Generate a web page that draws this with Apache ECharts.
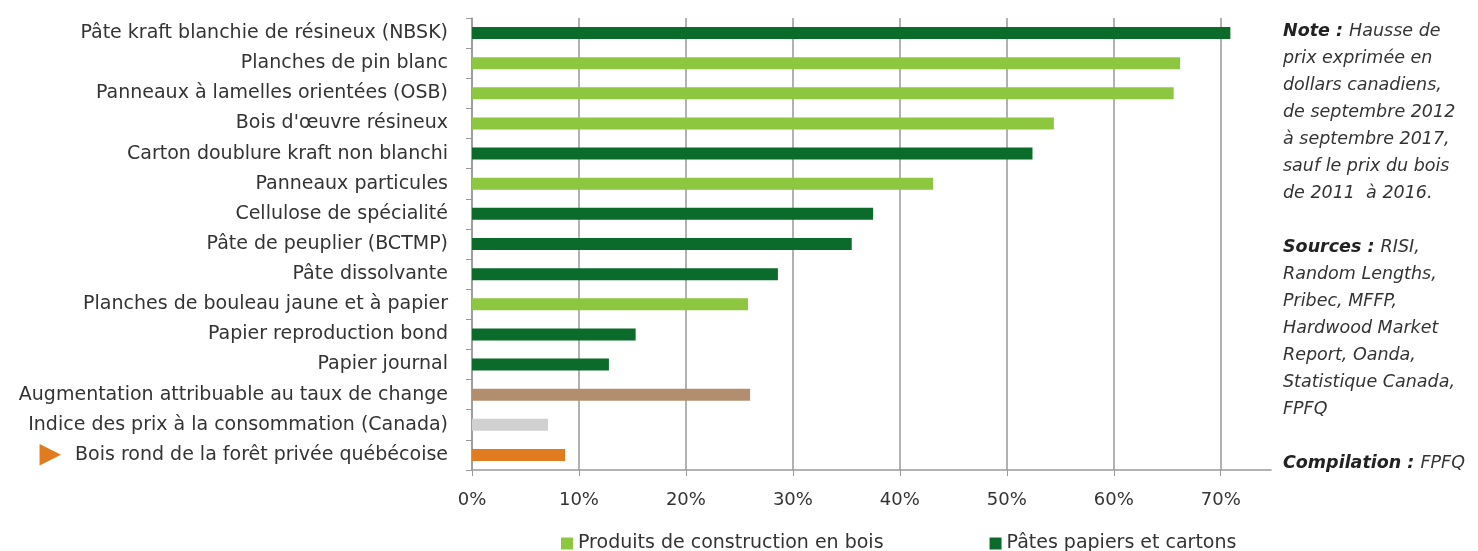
<!DOCTYPE html>
<html><head><meta charset="utf-8">
<script src="https://cdn.jsdelivr.net/npm/echarts@6/dist/echarts.min.js"></script>
<style>html,body{margin:0;padding:0;background:#fff}#c{width:1478px;height:551px}</style>
</head><body><div id="c"></div>
<script>
const categories = [
  "Pâte kraft blanchie de résineux (NBSK)",
  "Planches de pin blanc",
  "Panneaux à lamelles orientées (OSB)",
  "Bois d'œuvre résineux",
  "Carton doublure kraft non blanchi",
  "Panneaux particules",
  "Cellulose de spécialité",
  "Pâte de peuplier (BCTMP)",
  "Pâte dissolvante",
  "Planches de bouleau jaune et à papier",
  "Papier reproduction bond",
  "Papier journal",
  "Augmentation attribuable au taux de change",
  "Indice des prix à la consommation (Canada)",
  "Bois rond de la forêt privée québécoise"
];
const values = [70.9, 66.2, 65.6, 54.4, 52.4, 43.1, 37.5, 35.5, 28.6, 25.8, 15.3, 12.8, 26.0, 7.1, 8.7];
const groups = ["pate","bois","bois","bois","pate","bois","pate","pate","pate","bois","pate","pate","change","ipc","rond"];
const seriesNames = { bois: "Produits de construction en bois", pate: "Pâtes papiers et cartons", change: "Taux de change", ipc: "IPC", rond: "Bois rond" };
const seriesColors = { bois: "#8DC63F", pate: "#0B6B2B", change: "#B38E6E", ipc: "#D0D0D0", rond: "#E07B1F" };
const xTicks = [0, 10, 20, 30, 40, 50, 60, 70];
const noteLines = [
  ["Note : ", "Hausse de"], ["", "prix exprimée en"], ["", "dollars canadiens,"], ["", "de septembre 2012"],
  ["", "à septembre 2017,"], ["", "sauf le prix du bois"], ["", "de 2011  à 2016."]
];
const sourceLines = [
  ["Sources : ", "RISI,"], ["", "Random Lengths,"], ["", "Pribec, MFFP,"], ["", "Hardwood Market"],
  ["", "Report, Oanda,"], ["", "Statistique Canada,"], ["", "FPFQ"]
];
const compLine = ["Compilation : ", "FPFQ"];

const cats = categories.slice().reverse();
const font = "'DejaVu Sans', sans-serif";
const series = Object.keys(seriesNames).map(g => ({
  name: seriesNames[g],
  type: "bar",
  stack: "all",
  barWidth: 12,
  itemStyle: { color: seriesColors[g] },
  data: values.map((v, i) => groups[i] === g ? v : "-").reverse(),
  silent: true
}));

const graphics = [];
function addLines(lines, y0) {
  lines.forEach((l, i) => {
    graphics.push({
      type: "text", left: 1283, top: y0 + i * 27,
      style: { text: (l[0] ? "{b|" + l[0] + "}" : "") + "{n|" + l[1] + "}",
        rich: {
          b: { fontFamily: font, fontStyle: "italic", fontWeight: "bold", fontSize: 17.5, fill: "#222" },
          n: { fontFamily: font, fontStyle: "italic", fontSize: 17.5, fill: "#333" }
        } }
    });
  });
}
addLines(noteLines, 22);
addLines(sourceLines, 238);
addLines([compLine], 454);

const chart = echarts.init(document.getElementById("c"), null, { renderer: "canvas" });
chart.setOption({
  animation: false,
  grid: { left: 472, right: 207, top: 18, bottom: 81, containLabel: false },
  legend: {
    data: [seriesNames.bois, seriesNames.pate],
    left: 556, top: 529, itemWidth: 12, itemHeight: 12, itemGap: 106,
    icon: "rect",
    textStyle: { fontFamily: font, fontSize: 19, color: "#333" }
  },
  xAxis: {
    type: "value", min: 0, max: 74.7, interval: 10,
    axisLine: { show: true, lineStyle: { color: "#999", width: 1.5 } },
    axisTick: { show: true, inside: false, length: 6, lineStyle: { color: "#999" }, customValues: xTicks },
    splitLine: { show: true, lineStyle: { color: "#999", width: 1.5 } },
    axisLabel: { customValues: xTicks, formatter: v => v + "%", margin: 21,
      fontFamily: font, fontSize: 18, color: "#333" }
  },
  yAxis: {
    type: "category", data: cats,
    axisLine: { show: true, lineStyle: { color: "#999", width: 1.5 } },
    axisTick: { show: true, length: 6, lineStyle: { color: "#999" } },
    axisLabel: {
      margin: 24, fontFamily: font, fontSize: 19, color: "#333",
      formatter: v => v === categories[categories.length - 1] ? "{tri|▶}{s|}" + v : v,
      rich: { tri: { color: "#E07B1F", fontSize: 28, fontFamily: "DejaVu Sans" }, s: { width: 14 } }
    }
  },
  graphic: graphics,
  series: series
});
</script></body></html>
